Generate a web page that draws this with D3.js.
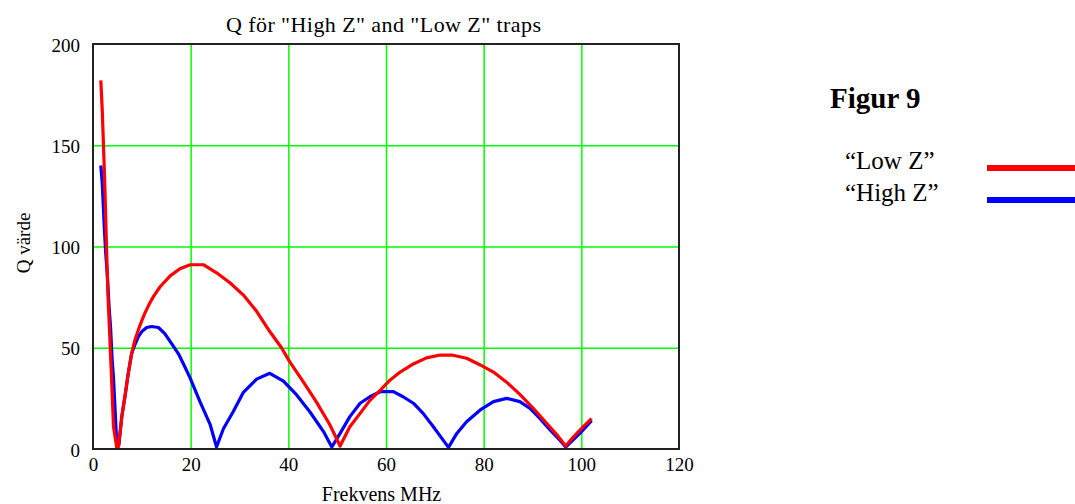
<!DOCTYPE html>
<html>
<head>
<meta charset="utf-8">
<script src="https://cdn.jsdelivr.net/npm/d3@7"></script>
<style>
  body { margin: 0; background: #fff; }
  svg text { font-family: "Liberation Serif", "DejaVu Serif", serif; fill: #000; }
</style>
</head>
<body>
<div id="chart"></div>
<script>
// values
var freqLow = [1.6, 1.9, 2.4, 2.8, 3.1, 3.5, 3.8, 4.2, 4.85, 5.2, 5.9, 6.55, 7.2, 7.9, 8.6, 9.6, 10.6, 11.5, 12.3, 13.7,
  15.8, 17.8, 19.9, 22.6, 25.3, 28.1, 30.8, 33.5, 36.2, 38.6, 40.3, 43.1, 45.8, 48.5, 50.6, 52.6, 54.7, 56.7, 58.8, 60.8,
  62.9, 65.6, 68.3, 71.1, 73.5, 76.5, 79.3, 82, 84.7, 87.4, 90.2, 92.9, 95, 96.8, 98.4, 100.4, 102.1]
var qLow = [182, 167, 132, 97, 74, 52, 35, 11, 1, 1, 16, 26, 37, 47, 54, 61, 67, 71.5, 75, 80,
  85.5, 89, 91, 91, 87, 82, 76, 68, 58, 50, 43, 33, 23, 12, 1.5, 11, 17.6, 24, 29, 34,
  38, 42, 45, 46.4, 46.4, 44.8, 41.5, 38, 33, 27, 20, 12.7, 7, 1.5, 6, 11, 15]

var freqHigh = [1.6, 1.9, 2.3, 2.6, 2.9, 3.3, 3.6, 3.9, 4.2, 4.9, 5.3, 5.9, 6.55, 7.2, 7.9, 8.5, 9.3, 10, 11, 12,
  13.4, 14.7, 16.1, 17.5, 18.8, 19.9, 21.9, 24, 25.3, 26.7, 28.7, 30.8, 33.5, 36.2, 39, 41.7, 44.4, 47.2, 48.9, 50.6,
  52.6, 54.7, 56.7, 58.8, 61.5, 63.5, 65.6, 67.6, 69.7, 71.7, 72.8, 74.5, 76.5, 79.3, 82, 84.7, 87.4, 89.5, 91.5, 93.6,
  95.6, 96.8, 99.7, 102.1]
var qHigh = [140, 131, 110, 97, 87, 70, 60, 45, 35, 1, 2, 16, 26, 37, 47, 51, 55.5, 58, 60, 60.5,
  60, 57, 52, 47, 40.6, 35, 23.4, 12, 1, 10, 18.4, 28, 34.5, 37.4, 33.5, 26.7, 18.4, 8.6, 1, 7.7,
  16, 22.6, 25.8, 28.3, 28.3, 25.8, 22.6, 17.6, 11, 4.4, 0.8, 7.7, 13.5, 19.3, 23.4, 25, 23.4, 20.1, 15.1, 9.4,
  4.4, 1, 7.7, 14]

var xTicks = [0, 20, 40, 60, 80, 100, 120]
var yTicks = [0, 50, 100, 150, 200]
var legendNames = ["\u201CLow Z\u201D", "\u201CHigh Z\u201D"]
var colors = ["#ff0000", "#0000ff"]

var width = 1075,
  height = 504,
  mLeft = 93, mRight = 679, mTop = 44, mBottom = 449

var svg = d3.select("#chart").append("svg")
  .attr("width", width)
  .attr("height", height)

svg.append("rect").attr("width", width).attr("height", height).attr("fill", "#fff")

var x = d3.scaleLinear().domain([0, 120]).range([mLeft, mRight])
var y = d3.scaleLinear().domain([0, 200]).range([mBottom, mTop])

// grid
svg.append("g")
  .attr("transform", `translate(0,${mBottom})`)
  .call(d3.axisBottom(x).tickValues(xTicks.slice(1, -1)).tickSize(-(mBottom - mTop)).tickFormat(""))
  .call(g => g.select(".domain").remove())
  .selectAll("line").attr("stroke", "#00ff00").attr("stroke-width", 1.5)

svg.append("g")
  .attr("transform", `translate(${mLeft},0)`)
  .call(d3.axisLeft(y).tickValues(yTicks.slice(1, -1)).tickSize(-(mRight - mLeft)).tickFormat(""))
  .call(g => g.select(".domain").remove())
  .selectAll("line").attr("stroke", "#00ff00").attr("stroke-width", 1.5)

// tick labels
svg.append("g")
  .attr("transform", `translate(0,${mBottom})`)
  .call(d3.axisBottom(x).tickValues(xTicks).tickSize(0).tickPadding(9))
  .call(g => g.select(".domain").remove())
  .selectAll("text").attr("font-size", 19).attr("font-family", "Liberation Serif")

svg.append("g")
  .attr("transform", `translate(${mLeft},0)`)
  .call(d3.axisLeft(y).tickValues(yTicks).tickSize(0).tickPadding(13))
  .call(g => g.select(".domain").remove())
  .selectAll("text").attr("font-size", 19).attr("font-family", "Liberation Serif").attr("dy", "0.38em")

// lines
var line = d3.line()
  .x(d => x(d[0]))
  .y(d => y(d[1]))

var series = [
  d3.zip(freqHigh, qHigh),
  d3.zip(freqLow, qLow)
]

svg.append("path")
  .datum(series[0])
  .attr("d", line)
  .attr("fill", "none")
  .attr("stroke", colors[1])
  .attr("stroke-width", 3.2)
  .attr("stroke-linejoin", "round")

svg.append("path")
  .datum(series[1])
  .attr("d", line)
  .attr("fill", "none")
  .attr("stroke", colors[0])
  .attr("stroke-width", 3.2)
  .attr("stroke-linejoin", "round")

// frame
svg.append("rect")
  .attr("x", mLeft).attr("y", mTop)
  .attr("width", mRight - mLeft).attr("height", mBottom - mTop)
  .attr("fill", "none").attr("stroke", "#222").attr("stroke-width", 2)

// titles
svg.append("text")
  .attr("x", 383.5)
  .attr("y", 32)
  .attr("text-anchor", "middle")
  .attr("font-size", 22)
  .attr("textLength", 315)
  .text('Q för "High Z" and "Low Z" traps')

svg.append("text")
  .attr("transform", `translate(30,243) rotate(-90)`)
  .attr("text-anchor", "middle")
  .attr("font-size", 19)
  .text("Q värde")

svg.append("text")
  .attr("x", 381.5)
  .attr("y", 501)
  .attr("text-anchor", "middle")
  .attr("font-size", 20)
  .text("Frekvens MHz")

// legend
svg.append("text")
  .attr("x", 830).attr("y", 108)
  .attr("font-size", 29)
  .attr("font-weight", "bold")
  .attr("font-family", "Liberation Serif")
  .text("Figur 9")

var legend = svg.append("g").selectAll("g")
  .data(legendNames)
  .enter().append("g")
  .attr("transform", (d, i) => `translate(0,${168 + i * 32})`)

legend.append("text")
  .attr("x", 845).attr("y", 1)
  .attr("font-size", 25)
  .text(d => d)

legend.append("line")
  .attr("x1", 987).attr("x2", 1075)
  .attr("stroke", (d, i) => colors[i])
  .attr("stroke-width", 6)
</script>
</body>
</html>
